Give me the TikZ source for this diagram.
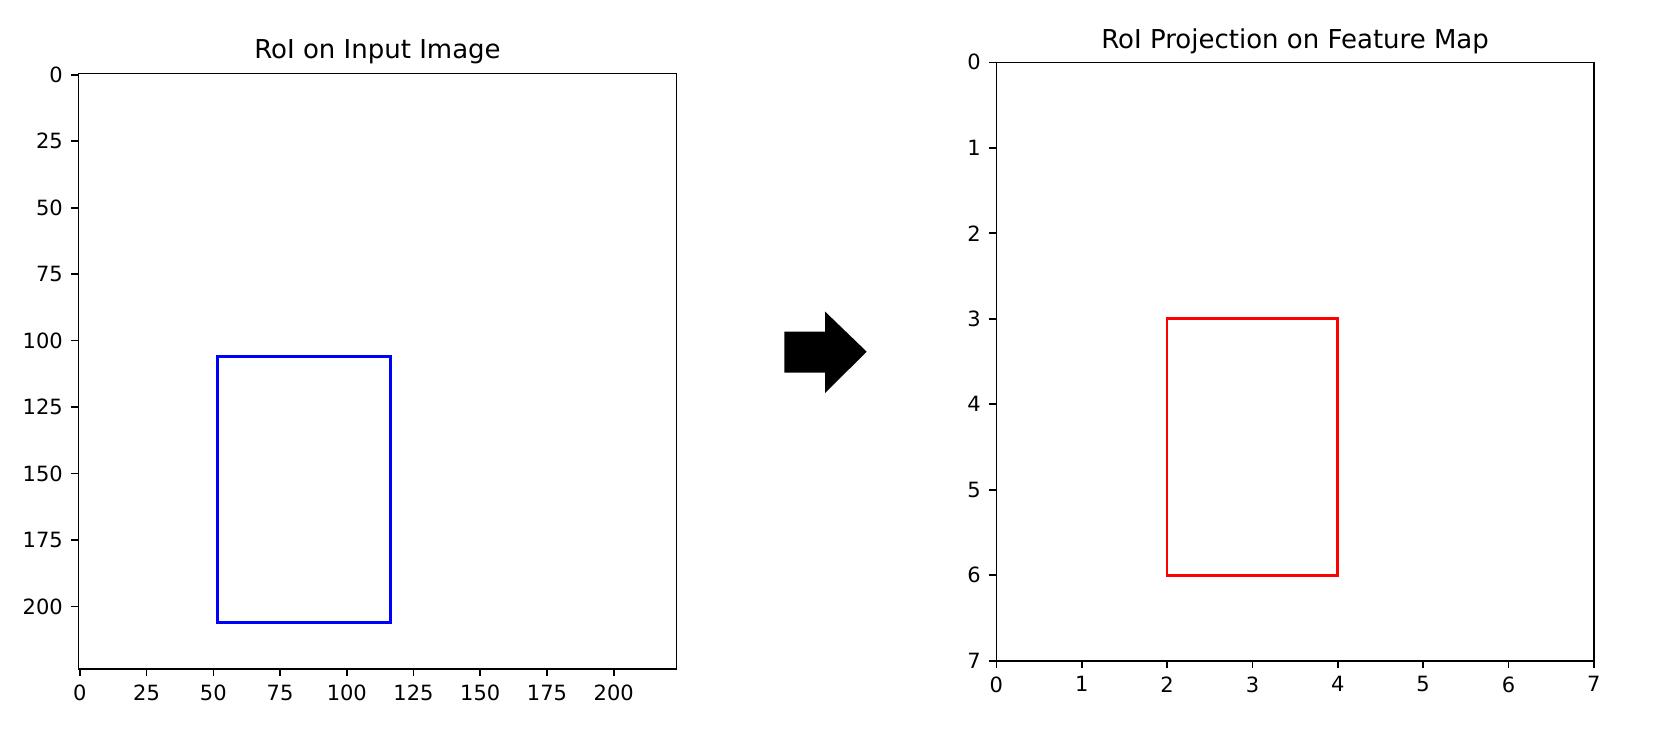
\documentclass[tikz,border=0pt]{standalone}
\usepackage{fontspec}
\setmainfont{DejaVu Sans}
\usetikzlibrary{calc}
\tikzset{
  frame/.style={line width=1.6pt, black},
  tick/.style={line width=1.6pt, black},
  ticklab/.style={inner sep=0pt, font=\fontsize{21}{25}\selectfont},
  title/.style={inner sep=0pt, anchor=base, font=\fontsize{26}{30}\selectfont},
  roiblue/.style={draw={rgb,255:red,0;green,0;blue,255}, line width=2.7pt},
  roired/.style={draw={rgb,255:red,255;green,0;blue,0}, line width=2.8pt},
}
\begin{document}
\begin{tikzpicture}[x=1pt,y=-1pt]
\path[use as bounding box] (0,0) rectangle (1655,734);
% ---------- left axes ----------
\begin{scope}[shift={(79.83,74.83)}, x=2.6696pt, y=-2.6585pt]
  \draw[roiblue] (51.5,106) rectangle (116.5,206);
  \draw[frame] (-0.5,-0.5) rectangle (223.5,223.5);
  \coordinate (Ltop) at (111.5,-0.5);
  \foreach \v in {0,25,...,200}{
    \draw[tick] (\v,223.5) -- ++(0pt,-7pt);
    \path (\v,223.5) ++(0pt,-15.5pt) node[ticklab, anchor=north] (lx\v) {\v};
    \draw[tick] (-0.5,\v) -- ++(-7pt,0pt);
    \path (-0.5,\v) ++(-15.5pt,0pt) node[ticklab, anchor=east] (ly\v) {\v};
  }
\end{scope}
\path (Ltop) ++(0pt,14.8pt) node[title] (ltitle) {RoI on Input Image};
% ---------- arrow ----------
\fill[black] (784.3,331.5) -- (825,331.5) -- (825,311.5) -- (866.7,351.7)
  -- (825,393) -- (825,372.5) -- (784.3,372.5) -- cycle;
% ---------- right axes ----------
\begin{scope}[shift={(996.4,62.3)}, x=85.34pt, y=-85.49pt]
  \draw[roired] (2,3) rectangle (4,6);
  \draw[frame] (0,0) rectangle (7,7);
  \coordinate (Rtop) at (3.5,0);
  \foreach \v in {0,...,7}{
    \draw[tick] (\v,7) -- ++(0pt,-7pt);
    \path (\v,7) ++(0pt,-15.5pt) node[ticklab, anchor=north] (rx\v) {\v};
    \draw[tick] (0,\v) -- ++(-7pt,0pt);
    \path (0,\v) ++(-15.5pt,0pt) node[ticklab, anchor=east] (ry\v) {\v};
  }
\end{scope}
\path (Rtop) ++(0pt,14.3pt) node[title] (rtitle) {RoI Projection on Feature Map};
\end{tikzpicture}
\end{document}
